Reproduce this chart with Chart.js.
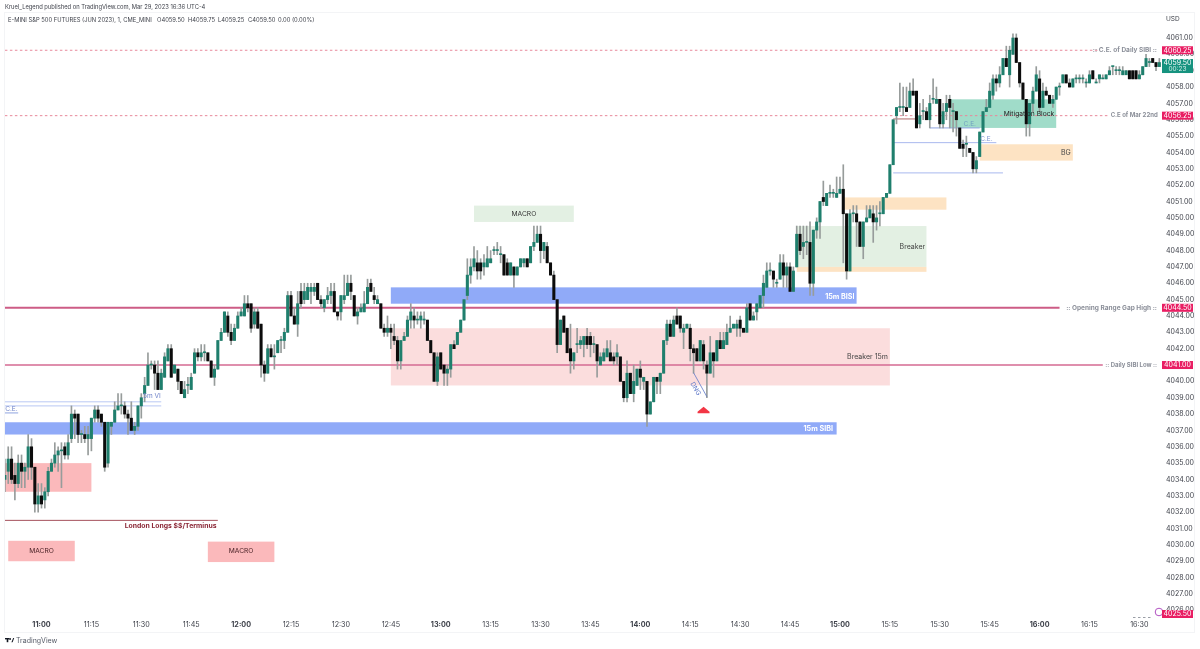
<!DOCTYPE html>
<html>
<head>
<meta charset="utf-8">
<title>E-MINI S&P 500 FUTURES</title>
<script src="https://cdn.jsdelivr.net/npm/chart.js@4/dist/chart.umd.min.js"></script>
<style>
html, body { margin: 0; padding: 0; background: #fff; }
canvas { display: block; }
</style>
</head>
<body>
<canvas id="myChart" width="1200" height="649"></canvas>
<script>
// first candle is 10:49, one candle per minute (x axis is minutes since midnight)
var firstMinute = 649;

var opens = [
4034,4034.5,4035.25,4034.25,4033.75,4035,4034.5,4034.75,4036,4034.75,
4032.5,4033,4032.75,4033.25,4034.5,4035,4035.5,4035.75,4036,4035.5,
4036.5,4038,4038,4036.75,4036.75,4036.5,4036.5,4037.75,4038.25,4038,
4037.5,4035,4037.25,4037.5,4038.25,4038.5,4038.5,4038,4037.75,4037,
4037.25,4038.5,4039.25,4039.75,4041,4041,4040.5,4039.5,4040.25,4041.25,
4042,4040.5,4040.75,4040,4039,4039.75,4039.5,4040.5,4041.75,4041.5,
4041.75,4041.75,4041.25,4040.25,4040.75,4042.5,4043,4044,4043,4042.5,
4043.25,4044,4044,4044.75,4044.75,4043.5,4044.25,4043.5,4041,4040.5,
4042,4041.5,4041.75,4042.5,4042.5,4043,4045.25,4044,4043.5,4045.5,
4045,4045,4045.5,4045.5,4046,4045,4044.5,4045,4045.25,4045.5,
4044.25,4044.25,4045,4045.25,4046,4045.25,4044,4044.25,4044.25,4044.75,
4046,4045.25,4044.75,4044.75,4043.25,4043,4043.25,4042.75,4042.5,4041.25,
4042.5,4042.75,4043.75,4044,4043.75,4043.75,4043.75,4043.75,4042.5,4041.75,
4040,4041.75,4041,4040.5,4040.75,4042.25,4042.25,4043,4043.75,4045.25,
4046.5,4047,4047.25,4047.25,4047,4047,4047.25,4048,4048,4047.75,
4047.75,4047.25,4046.5,4047,4046.5,4047,4047.25,4047.5,4047.25,4048.25,
4048.5,4049,4048,4048.25,4047.25,4046.5,4045,4042.25,4044,4043.25,
4042,4041.25,4042.25,4042.25,4042.25,4042.75,4042.75,4042.25,4042.25,4041,
4041.25,4041.5,4041.75,4041.5,4041.5,4041.5,4040,4039,4040.5,4039.25,
4039.75,4040.75,4040,4040,4038,4038.75,4040.25,4040,4040.5,4042.5,
4043.5,4042.75,4044,4044,4043,4043.25,4043.25,4042,4042,4041.25,
4042.25,4041,4040.5,4041.75,4041.25,4042.5,4042,4042.25,4043,4043.25,
4043.25,4043.75,4043.25,4043,4044.75,4043.75,4044.25,4044.5,4045.25,4045.75,
4046.75,4046.75,4046,4046.25,4047.25,4046.5,4047,4045.5,4047,4049,
4048.25,4048.5,4048.5,4046,4049.25,4049.75,4051.25,4050.75,4051.5,4051.5,
4051.25,4051.5,4051.75,4050.25,4046.75,4050.25,4050.25,4049.75,4048.25,4049.75,
4050,4050.25,4049.75,4050.25,4050.25,4051.25,4051.5,4053.25,4056.25,4056.75,
4056.75,4056.75,4056.75,4057.75,4057.75,4055.75,4056.5,4056.5,4056,4057.25,
4057,4057.25,4055.75,4056.5,4057.25,4056.5,4056.5,4055.5,4054.5,4054.5,
4054.25,4054,4053,4053.75,4055.25,4056.5,4056.75,4057.5,4058.5,4058.25,
4058.75,4059.75,4058.75,4060,4061,4059.5,4058.25,4057.25,4055.75,4057,
4057.75,4058.5,4056.75,4057.75,4057.5,4057,4057.25,4058,4058.25,4058.75,
4058.25,4058,4058.5,4058.5,4058.5,4058.25,4058.25,4059,4058.25,4058.5,
4058.5,4058.5,4058.75,4059.25,4059,4059,4058.75,4058.75,4059,4059,
4059,4058.5,4058.75,4059.25,4059.5,4059.75,4059.5,4059.25
];
var highs = [
4035.25,4036,4036,4035,4035.5,4035.5,4035,4036.75,4036.5,4034.75,
4033.75,4033.75,4033.5,4034.75,4035.25,4036.25,4036,4036.25,4036.25,4036.75,
4038.5,4038.25,4038,4037,4037.25,4037.25,4037.75,4038.5,4038.5,4038,
4037.5,4037.5,4037.5,4038.75,4039.25,4039.25,4038.75,4038.25,4038.75,4037.5,
4038.5,4039.25,4040.25,4041.75,4041.25,4041.25,4041.25,4040.75,4041.75,4042.25,
4042.25,4041,4040.75,4040,4040,4040.25,4040.5,4042,4042,4042.25,
4042.25,4041.75,4041.25,4041,4042.5,4043.25,4044.25,4044.25,4043.5,4043.5,
4044.25,4044.5,4045.25,4045.25,4044.75,4044.5,4044.5,4043.5,4041.25,4042.25,
4042.25,4042.25,4042.5,4042.75,4043.25,4045.5,4045.5,4044.5,4045.5,4046,
4046,4046,4046,4046,4046,4045.25,4045,4045.75,4046,4046,
4044.25,4045.25,4046.5,4046.5,4046.5,4045.25,4044.5,4044.75,4045.5,4046.25,
4046.25,4045.75,4045.25,4044.75,4043.5,4044,4043.5,4043.5,4042.75,4042.5,
4043,4044,4044.75,4044.5,4044.25,4044.25,4044.25,4043.75,4042.5,4041.75,
4041.75,4041.75,4041,4041,4042.25,4042.5,4043,4043.75,4045,4047.5,
4047.5,4048.25,4048,4047.5,4047.75,4048.25,4048,4048.25,4048.5,4048.25,
4047.75,4047.5,4047.25,4047,4047,4047.5,4047.5,4047.5,4048.25,4049.5,
4049.5,4049.5,4048.5,4048.5,4047.25,4046.75,4045,4043.75,4044,4043.25,
4043.5,4041.75,4043.25,4042.75,4042.75,4043.25,4043,4042.75,4042.25,4041.75,
4042,4042.5,4042.5,4041.75,4042.25,4041.5,4040,4041.25,4040.5,4041,
4040.75,4041.25,4040.25,4040,4038.75,4040.25,4040.25,4040.5,4042.5,4043.75,
4043.75,4044,4044.5,4044,4043.5,4043.5,4043.5,4042.25,4042,4042.5,
4042.5,4041.25,4042.75,4041.75,4042.5,4043,4043,4043.5,4044,4043.5,
4043.75,4044,4043.25,4044.75,4044.75,4044.25,4044.75,4045.25,4046.5,4047.25,
4047.25,4046.75,4046.25,4047.75,4047.75,4047.25,4047.25,4047,4049.5,4049.5,
4049.5,4049.5,4049.75,4049.25,4050,4051,4052.25,4051.5,4052,4051.75,
4052.5,4052.5,4053.25,4050.25,4050.5,4050.75,4050.75,4049.75,4049.75,4050.75,
4050.75,4050.75,4050.75,4051,4051.25,4051.5,4053.25,4056,4056.75,4058.25,
4058,4058,4058.25,4058.5,4057.75,4057,4057.25,4056.75,4057.5,4058.5,
4058,4057.25,4057,4057.5,4057.5,4057,4056.5,4055.5,4054.75,4055,
4054.25,4054,4053.75,4055.25,4056.5,4057.25,4058.25,4058.75,4058.75,4059.25,
4059.75,4060.5,4060.5,4061.25,4061.25,4059.5,4058.25,4057.25,4057,4058,
4059.25,4059,4058.25,4058,4057.5,4057.5,4058,4058.25,4058.75,4058.75,
4058.5,4058.5,4058.75,4058.75,4058.75,4058.5,4059,4059,4058.5,4058.75,
4058.75,4058.75,4059.25,4059.25,4059.25,4059.25,4059.25,4059,4059,4059,
4059,4059,4059.25,4060,4059.75,4059.75,4059.5,4059.75
];
var lows = [
4033.25,4033.75,4033.75,4032.75,4033.5,4033.5,4033.5,4034,4034,4032,
4032,4032.25,4032.25,4033,4034.5,4034.75,4034.5,4033.5,4035.25,4035.25,
4036.25,4036.5,4036.25,4036.25,4036.25,4035.5,4035.75,4037.5,4037.5,4037.25,
4034.5,4034.75,4036.75,4037.5,4038.25,4038,4037.75,4036.75,4037,4036.75,
4037,4037.75,4038.75,4039.75,4040.75,4039.5,4039.5,4039.5,4040.25,4041.25,
4040.25,4040.5,4039.5,4039.25,4039,4039.25,4039.5,4040.5,4041.25,4041.25,
4041.25,4041.25,4040.25,4039.75,4040.75,4042.5,4043,4042.75,4042.25,4042.5,
4043.25,4044,4044,4044.25,4043,4043.25,4043.25,4040.25,4040,4040.5,
4041.5,4040.75,4041.75,4041.75,4042,4043,4044,4043.5,4042.75,4044.5,
4044.75,4045,4044.75,4045.25,4045,4044.5,4044.25,4044.75,4044.75,4044.25,
4043.75,4043.75,4044.75,4045.25,4045,4044,4043.5,4044.25,4044.25,4044.75,
4045.5,4044.75,4044.75,4043.25,4042.75,4042.75,4042,4042.25,4040.75,4040.75,
4042.5,4042.75,4043.25,4043.25,4043.5,4043.25,4043.5,4042.5,4041.75,4040,
4039.75,4040.75,4039.75,4039.75,4040.25,4042,4042.25,4043,4043.75,4045,
4046,4046.75,4046.25,4046.25,4046.5,4047,4047.25,4047.75,4047.75,4047.25,
4046.5,4046.5,4046.5,4045.75,4046.5,4047,4047,4047,4047.25,4048,
4048.5,4047.25,4047.5,4047.25,4046.5,4045,4041.75,4042.25,4043,4041.75,
4040.5,4040.75,4041.75,4042,4041.5,4042,4041.5,4041.75,4040.25,4041,
4041.25,4041.5,4041.25,4041,4041,4040,4038.75,4038.75,4039.25,4038.75,
4039.75,4039.5,4039.5,4037.25,4038,4038.75,4039.25,4039.25,4040.5,4042.25,
4042.75,4042.75,4043.5,4043,4042,4043.25,4041.25,4040.5,4041.25,4041.25,
4040.75,4039,4040.5,4040.25,4041.25,4042,4042,4042.25,4043,4043.25,
4042.75,4042.75,4043,4043,4043.75,4043.75,4043.75,4044.5,4044.5,4045.75,
4046.5,4045.75,4045.75,4046.25,4045.75,4045.75,4045.5,4045.5,4047,4047.75,
4047.5,4047.75,4045.25,4045.25,4048.75,4048.75,4050.75,4050.75,4051.25,4051.25,
4051.25,4051.5,4047.25,4046.25,4046.75,4049.75,4048.25,4048.25,4047.5,4049.75,
4050,4048.5,4049.25,4049.5,4050.25,4051.25,4051.5,4053.25,4055.75,4056.5,
4056.25,4056.5,4056.75,4057.5,4055.5,4055.5,4056,4056,4055.5,4057,
4057,4055.5,4055.5,4056,4055.5,4055.25,4055,4054.25,4053.75,4053.75,
4054,4052.75,4052.75,4053.75,4055.25,4056.5,4056.75,4057.25,4057.75,4058,
4058.75,4059.25,4058,4060,4059.5,4058,4057.25,4055,4055,4056.5,
4057.75,4056.5,4056.75,4057.5,4057,4056.75,4057.25,4057.5,4058.25,4058.25,
4058,4058,4058.25,4058.25,4058.25,4058,4058.25,4058.5,4058.25,4058.25,
4058.5,4058.5,4058.75,4058.75,4058.75,4058.75,4058.75,4058.75,4058.5,4058.5,
4058.5,4058.5,4058.75,4059.25,4059.25,4059.5,4059,4059.25
];
var closes = [
4034.25,4035.25,4034,4033.75,4035,4034.5,4034.75,4036,4034.75,4032.5,
4033,4032.5,4033.25,4034.5,4035,4035.5,4035.75,4035.75,4035.5,4036.25,
4038,4037.75,4036.75,4036.75,4036.5,4036.75,4037.75,4038.25,4037.75,4037.5,
4034.75,4037.5,4037.5,4038.25,4038.5,4038.5,4038,4037.75,4037,4037.25,
4038.5,4039,4039.75,4041,4041,4040.5,4039.5,4040.5,4041.5,4042,
4040.25,4041,4040,4039.25,4039.5,4039.75,4040.25,4041.75,4041.5,4041.75,
4041.75,4041.25,4040.25,4040.75,4042.5,4043,4044.25,4043,4042.5,4043.25,
4044,4044.25,4044.75,4044.5,4043.25,4044.25,4043.25,4041,4040.5,4042,
4041.5,4041.5,4042.5,4042.5,4043,4045.25,4044,4043.5,4044.75,4044.75,
4045.5,4045.75,4045.75,4045.75,4045,4044.75,4045,4045.25,4045.5,4044.25,
4044,4045.25,4045.25,4046,4045.5,4044,4044.25,4044.5,4044.75,4045.75,
4045.5,4045,4045,4043.25,4043,4043.25,4043,4042.5,4041.25,4042.5,
4042.75,4043.75,4044.25,4043.75,4043.75,4044,4043.75,4042.5,4041.75,4040,
4041.5,4040.75,4040.5,4040.75,4042.25,4042,4043,4043.75,4045,4046.5,
4047,4047.5,4046.75,4046.75,4047.25,4047.5,4047.5,4048,4048,4047.75,
4046.5,4046.5,4047.25,4046.5,4047,4047.5,4047.5,4047,4048.25,4048.5,
4049,4048,4048.5,4047.25,4046.5,4045,4042.25,4043.75,4043,4041.75,
4041.25,4041.75,4042.25,4042.5,4042.75,4042.25,4042.25,4042.25,4041.25,4041.5,
4041.75,4042,4041.25,4041.25,4041.75,4040,4039,4040.5,4039.25,4040,
4040.75,4040.25,4040.25,4038,4038.75,4040.25,4040,4040.5,4042.5,4043.5,
4042.75,4043.75,4043.5,4043.25,4043.25,4043.5,4042,4041.75,4041.25,4042.5,
4041.25,4040.5,4041.75,4041.25,4042.5,4042,4042.5,4043,4043.25,4043.5,
4043.5,4043.25,4043,4044.5,4043.75,4044,4044.75,4045.25,4046,4046.75,
4046.75,4046.25,4046,4047.25,4046.5,4047,4045.5,4046.75,4049,4048,
4048.5,4048.5,4046,4049.25,4049.75,4051,4051,4051.5,4051.5,4051.5,
4051.5,4051.75,4050.25,4046.75,4050.25,4050.25,4049.75,4048.25,4049.75,4050,
4050.5,4049.75,4050,4050.25,4051.25,4051.5,4053.25,4056,4056.75,4056.75,
4056.75,4056.5,4057.75,4057.5,4055.5,4056.25,4056.5,4056,4057,4057.25,
4057.25,4055.75,4056.5,4057,4056.75,4056.5,4056,4054.25,4054.25,4054.5,
4054,4053,4053.5,4055.25,4056.5,4056.75,4057.75,4058.5,4058.25,4058.75,
4059.75,4059.25,4060.25,4061,4059.5,4058.25,4057.25,4055.75,4057,4057.75,
4058.75,4056.75,4057.75,4057.5,4057,4057.25,4058,4058,4058.75,4058.25,
4058,4058.5,4058.5,4058.5,4058.5,4058.25,4058.75,4058.5,4058.25,4058.75,
4058.5,4058.75,4059,4059.25,4059,4059,4059,4059,4058.5,4058.5,
4058.5,4058.75,4059.25,4059.75,4059.5,4059.5,4059.25,4059.5
];

var timeTicks = [660,675,690,705,720,735,750,765,780,795,810,825,840,855,870,885,900,915,930,945,960,975,990];
var timeLabels = ["11:00","11:15","11:30","11:45","12:00","12:15","12:30","12:45","13:00","13:15","13:30","13:45","14:00","14:15","14:30","14:45","15:00","15:15","15:30","15:45","16:00","16:15","16:30"];
var priceTicks = [4026,4027,4028,4029,4030,4031,4032,4033,4034,4035,4036,4037,4038,4039,4040,4041,4042,4043,4044,4045,4046,4047,4048,4049,4050,4051,4052,4053,4054,4055,4056,4057,4058,4059,4060,4061];

var redTags = [4060.25, 4056.25, 4044.5, 4041, 4025.5];
var lastPrice = 4059.5;

// [from minute, to minute, top price, bottom price, colour]
var zones = [
    [765, 905, 4045.75, 4044.75, "#90aaf8"],
    [649, 899, 4037.5, 4036.75, "#90aaf8"],
    [765, 915, 4043.25, 4039.75, "#fbdddd"],
    [649, 675, 4035, 4033.25, "#fbb9bb"],
    [790, 820, 4050.75, 4049.75, "#e3f0e3"],
    [650, 670, 4030.25, 4029, "#fbb9bb"],
    [710, 730, 4030.2, 4028.95, "#fbb9bb"],
    [887, 926, 4049.5, 4047, "#e3f0e3"],
    [887, 926, 4047, 4046.7, "#fde3c3"],
    [901, 932, 4051.25, 4050.5, "#fde3c3"],
    [942, 970, 4054.5, 4053.5, "#fde3c3"],
    [933, 965, 4057.25, 4055.5, "#a0dcc9"]
];
// [from minute, to minute, price, colour, width, dashed]
var levels = [
    [649, 977.6, 4060.25, "#e8889a", 1, true],
    [649, 981, 4056.25, "#e8889a", 1, true],
    [649, 966, 4044.5, "#cd5c86", 2, false],
    [649, 979, 4041, "#d46a92", 1.4, false],
    [649, 713, 4031.5, "#a5505c", 1, false],
    [649, 696, 4038.75, "#b9c8f3", 1, false],
    [649, 696, 4038.5, "#b9c8f3", 1, false],
    [649, 653, 4038.07, "#8ea3e0", 1, false],
    [916, 949, 4052.75, "#a9b8ee", 1, false],
    [916, 947, 4054.6, "#a9b8ee", 1, false],
    [927, 942, 4055.5, "#8ea3e0", 1, false],
    [916, 923, 4056.05, "#b06a6a", 1, false]
];
// text, minute, price, align, font, colour
var notes = [
    ["MACRO", 805, 4050.25, "center", "6.7px Inter", "#333"],
    ["MACRO", 660, 4029.65, "center", "6.7px Inter", "#4a2226"],
    ["MACRO", 720, 4029.6, "center", "6.7px Inter", "#4a2226"],
    ["15m BISI", 904.4, 4045.15, "right", "bold 7.2px Inter", "#fff"],
    ["15m SIBI", 897.9, 4037.1, "right", "bold 7.2px Inter", "#fff"],
    ["Breaker 15m", 914.4, 4041.5, "right", "7px Inter", "#444"],
    ["Breaker", 925.6, 4048.2, "right", "7px Inter", "#444"],
    ["BG", 969.4, 4054, "right", "7px Inter", "#444"],
    ["Mitigation Block", 956.8, 4056.35, "center", "6.7px Inter", "#222"],
    ["London Longs $$/Terminus", 685, 4031.15, "left", "bold 6.85px Inter", "#8a2635"],
    ["5m VI", 690.5, 4039.1, "left", "6.5px Inter", "#6f83c9"],
    ["C.E.", 649.1, 4038.3, "left", "6.5px Inter", "#6f83c9"],
    ["C.E.", 939, 4055.75, "center", "6.5px Inter", "#6f9fc0"],
    ["C.E.", 944, 4054.8, "center", "6.5px Inter", "#7f93d0"],
    [":: C.E. of Daily SIBI ::", 995.3, 4060.25, "right", "bold 6.5px Inter", "#8b8f99"],
    ["C.E of Mar 22nd", 995.5, 4056.25, "right", "bold 6px Inter", "#8b8f99"],
    [":: Opening Range Gap High ::", 995.3, 4044.5, "right", "bold 6.5px Inter", "#8b8f99"],
    [":: Daily SIBI Low ::", 995.3, 4041, "right", "bold 6px Inter", "#8b8f99"]
];

var upColor = "#1f7f6d";
var downColor = "#0c0c0c";
var wickColor = "#979c9b";
var tagRed = "#e91e63";
var tagTeal = "#16937f";

function makeWicks() {
    return lows.map(function (low, i) {
        return { x: firstMinute + i, y: [low, highs[i]] };
    });
}
function makeBodies() {
    return opens.map(function (open, i) {
        return { x: firstMinute + i, y: [Math.min(open, closes[i]), Math.max(open, closes[i])] };
    });
}
function candleColor(ctx) {
    var i = ctx.dataIndex;
    return closes[i] >= opens[i] ? upColor : downColor;
}

function hline(c, x1, x2, y, color, width, dashed) {
    c.save();
    c.strokeStyle = color;
    c.lineWidth = width;
    c.setLineDash(dashed ? [2.5, 2.5] : []);
    c.beginPath();
    c.moveTo(x1, y);
    c.lineTo(x2, y);
    c.stroke();
    c.restore();
}
function label(c, text, x, y, align, font, color) {
    c.font = font;
    c.fillStyle = color;
    c.textAlign = align;
    c.textBaseline = "middle";
    c.fillText(text, x, y);
}

// zones and levels go under the candles
var underPlugin = {
    id: "under",
    beforeDatasetsDraw: function (chart) {
        var c = chart.ctx, X = chart.scales.x, Y = chart.scales.y;
        c.save();
        zones.forEach(function (z) {
            var x1 = X.getPixelForValue(z[0]), x2 = X.getPixelForValue(z[1]);
            var y1 = Y.getPixelForValue(z[2]), y2 = Y.getPixelForValue(z[3]);
            c.fillStyle = z[4];
            c.fillRect(x1, y1, x2 - x1, y2 - y1);
        });
        levels.forEach(function (l) {
            hline(c, X.getPixelForValue(l[0]), X.getPixelForValue(l[1]), Y.getPixelForValue(l[2]), l[3], l[4], l[5]);
        });
        c.restore();
    }
};

// text, tags and the little drawings on top
var overPlugin = {
    id: "over",
    afterDatasetsDraw: function (chart) {
        var c = chart.ctx, X = chart.scales.x, Y = chart.scales.y;
        c.save();
        notes.forEach(function (n) {
            label(c, n[0], X.getPixelForValue(n[1]), Y.getPixelForValue(n[2]), n[3], n[4], n[5]);
        });

        // DNG line and rotated text
        c.strokeStyle = "#5f78c8";
        c.lineWidth = 0.8;
        c.beginPath();
        c.moveTo(X.getPixelForValue(856), Y.getPixelForValue(4040.53));
        c.lineTo(X.getPixelForValue(860), Y.getPixelForValue(4039.06));
        c.stroke();
        c.save();
        c.translate(X.getPixelForValue(856.6), Y.getPixelForValue(4039.55));
        c.rotate(Math.PI / 3);
        label(c, "DNG", 0, 0, "center", "6.5px Inter", "#5f78c8");
        c.restore();

        // red arrow
        var ax = X.getPixelForValue(859), ay = Y.getPixelForValue(4038.05);
        c.fillStyle = "#f23645";
        c.beginPath();
        c.moveTo(ax - 6, ay);
        c.lineTo(ax - 6, ay - 1.5);
        c.lineTo(ax, ay - 6.5);
        c.lineTo(ax + 6, ay - 1.5);
        c.lineTo(ax + 6, ay);
        c.closePath();
        c.fill();

        // dashes and circle near the bottom of the axis
        hline(c, 1133, 1152, 617.5, "#9a9ea6", 1, true);
        c.strokeStyle = "#b04fc0";
        c.lineWidth = 1;
        c.beginPath();
        c.arc(1159, 612, 3.8, 0, Math.PI * 2);
        c.stroke();

        // price tags on the axis
        redTags.forEach(function (p) {
            var y = Math.min(Y.getPixelForValue(p), 614);
            c.fillStyle = tagRed;
            c.fillRect(1162, y - 4, 31, 8);
            label(c, p.toFixed(2), 1177.5, y + 0.3, "center", "7px Inter", "#fff");
        });
        var lastY = Y.getPixelForValue(lastPrice);
        c.fillStyle = tagTeal;
        c.fillRect(1162, lastY - 3.5, 31, 14);
        label(c, lastPrice.toFixed(2), 1177.5, lastY + 0.3, "center", "7px Inter", "#fff");
        label(c, "00:23", 1177.5, lastY + 6.5, "center", "6.5px Inter", "#d8f0ea");

        // header and footer
        label(c, "Kruel_Legend published on TradingView.com, Mar 29, 2023 16:36 UTC-4", 5, 7.5, "left", "5.8px Inter", "#3c3f48");
        label(c, "E-MINI S&P 500 FUTURES (JUN 2023), 1, CME_MINI", 8, 20, "left", "5.8px Inter", "#3c3f48");
        label(c, "O4059.50", 157, 20, "left", "5.8px Inter", "#3c3f48");
        label(c, "H4059.75", 188, 20, "left", "5.8px Inter", "#3c3f48");
        label(c, "L4059.25", 218, 20, "left", "5.8px Inter", "#3c3f48");
        label(c, "C4059.50", 248, 20, "left", "5.8px Inter", "#3c3f48");
        label(c, "0.00 (0.00%)", 278, 20, "left", "5.8px Inter", "#3c3f48");
        label(c, "USD", 1166, 19.5, "left", "6.5px Inter", "#3c3f48");

        c.fillStyle = "#131722";
        c.fillRect(5, 638, 4.4, 1.4);
        c.fillRect(6.7, 638, 1.6, 4.2);
        c.beginPath();
        c.arc(10.1, 639, 0.9, 0, Math.PI * 2);
        c.fill();
        c.beginPath();
        c.moveTo(11.4, 642.2);
        c.lineTo(13.2, 638);
        c.lineTo(14.2, 638);
        c.lineTo(12.6, 642.2);
        c.closePath();
        c.fill();
        label(c, "TradingView", 16, 640.5, "left", "7px Inter", "#555a66");

        // faint frame
        c.strokeStyle = "#f3f4f6";
        c.lineWidth = 1;
        c.strokeRect(4.5, 12.5, 1190, 620);
        c.restore();
    }
};

var ctx = document.getElementById("myChart");
var myChart = new Chart(ctx, {
    type: "bar",
    data: {
        datasets: [{
            label: "wicks",
            data: makeWicks(),
            backgroundColor: wickColor,
            barThickness: 1,
            minBarLength: 1,
            grouped: false,
            order: 2
        }, {
            label: "bodies",
            data: makeBodies(),
            backgroundColor: candleColor,
            barThickness: 2.4,
            minBarLength: 1,
            grouped: false,
            order: 1
        }]
    },
    options: {
        responsive: false,
        animation: false,
        devicePixelRatio: 1,
        layout: { padding: { left: 5, top: 12, right: 0, bottom: 15 } },
        plugins: { legend: { display: false }, tooltip: { enabled: false }, title: { display: false } },
        scales: {
            x: {
                type: "linear",
                offset: false,
                min: 649.03,
                max: 997.4,
                grid: { display: false, drawTicks: false },
                border: { display: false },
                afterBuildTicks: function (scale) {
                    scale.ticks = timeTicks.map(function (v) { return { value: v }; });
                },
                afterFit: function (scale) { scale.height = 17; },
                ticks: {
                    autoSkip: false,
                    maxRotation: 0,
                    padding: 4,
                    color: "#3c3f48",
                    font: function (c) {
                        var t = c.tick && c.tick.value;
                        return { family: "Inter", size: 7.2, weight: t % 60 === 0 ? "bold" : "normal" };
                    },
                    callback: function (v) {
                        return timeLabels[timeTicks.indexOf(v)];
                    }
                }
            },
            y: {
                position: "right",
                min: 4025.59,
                max: 4062.59,
                grid: { display: false, drawTicks: false },
                border: { display: false },
                afterBuildTicks: function (scale) {
                    scale.ticks = priceTicks.map(function (v) { return { value: v }; });
                },
                afterFit: function (scale) { scale.width = 36; },
                ticks: {
                    autoSkip: false,
                    padding: 2,
                    color: "#3c3f48",
                    font: { family: "Inter", size: 7 },
                    callback: function (v) { return v.toFixed(2); }
                }
            }
        }
    },
    plugins: [underPlugin, overPlugin]
});
</script>
</body>
</html>
